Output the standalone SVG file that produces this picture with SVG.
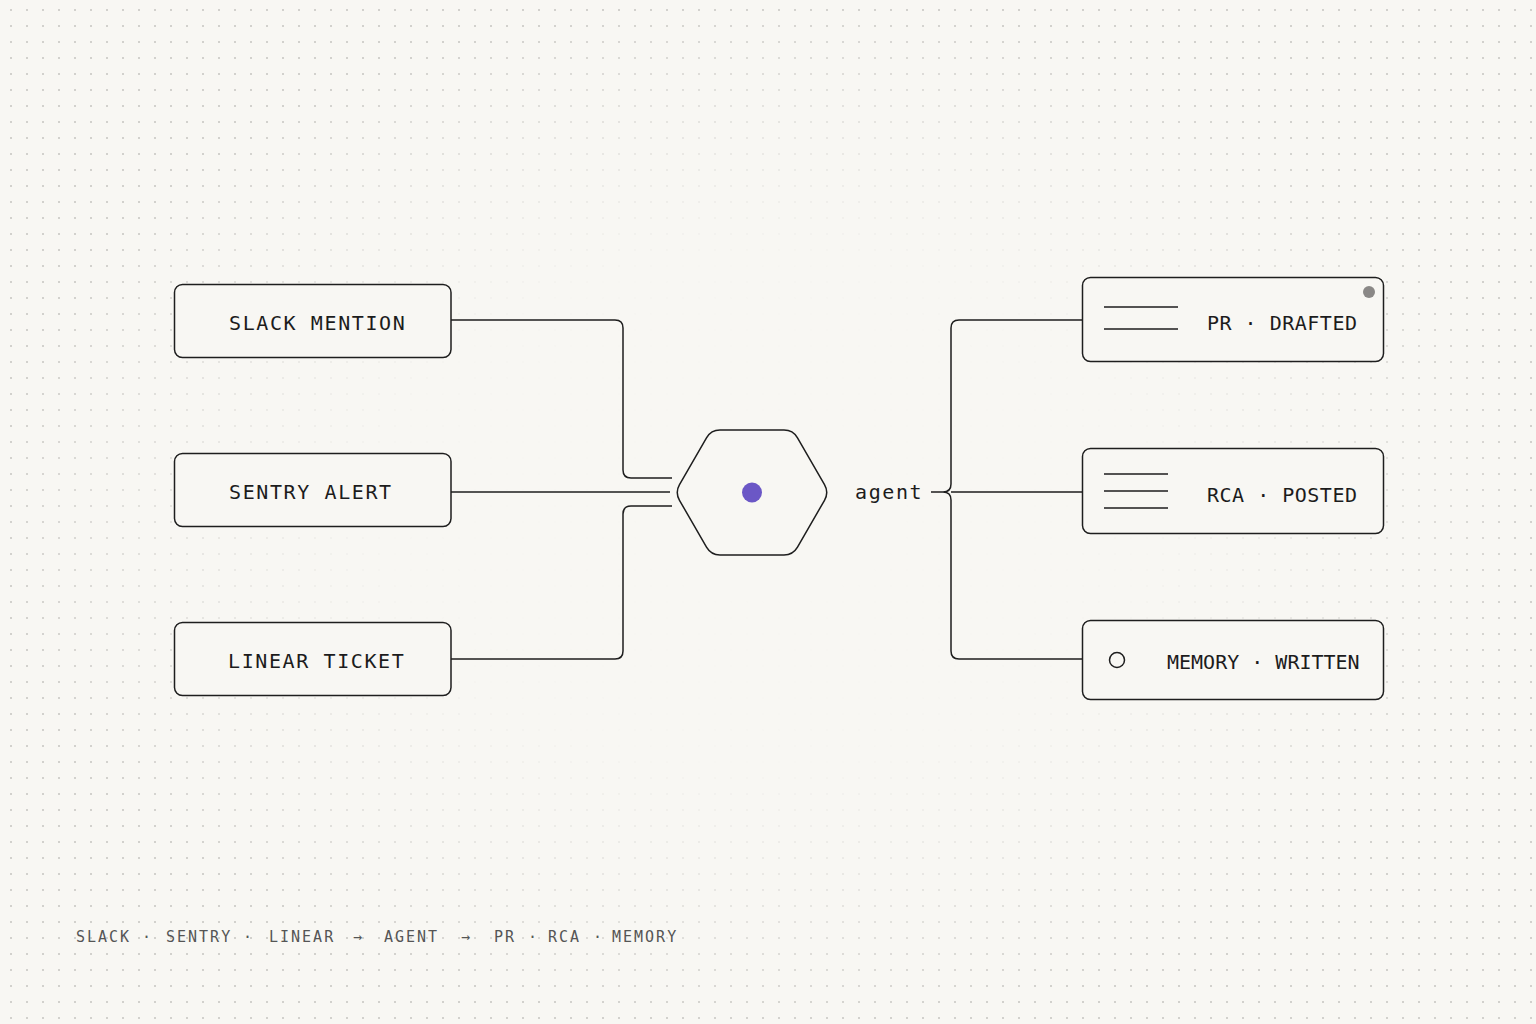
<svg xmlns="http://www.w3.org/2000/svg" width="1536" height="1024" viewBox="0 0 1536 1024">
  <defs>
    <pattern id="dots" x="3" y="2" width="16" height="16" patternUnits="userSpaceOnUse">
      <circle cx="8" cy="8" r="1" fill="#c6c5c1"/>
    </pattern>
    <radialGradient id="fade" cx="0.5" cy="0.5" r="0.5">
      <stop offset="0" stop-color="#fff" stop-opacity="0"/>
      <stop offset="0.5" stop-color="#fff" stop-opacity="0.04"/>
      <stop offset="0.75" stop-color="#fff" stop-opacity="0.45"/>
      <stop offset="1" stop-color="#fff" stop-opacity="1"/>
    </radialGradient>
    <mask id="m">
      <rect width="1536" height="1024" fill="url(#fade)"/>
    </mask>
  </defs>
  <style>
    .box { fill: #f8f7f3; stroke: #1e1e1e; stroke-width: 1.5; }
    .wire { fill: none; stroke: #1e1e1e; stroke-width: 1.5; }
    .lbl { font-family: "DejaVu Sans Mono", "Liberation Mono", monospace; font-size: 20px; fill: #1c1c1c; }
    .in { letter-spacing: 1.6px; }
    .out { letter-spacing: 0.5px; }
    .tight { letter-spacing: 0px; }
    .foot { font-family: "DejaVu Sans Mono", "Liberation Mono", monospace; font-size: 15px; fill: #555; letter-spacing: 2px; }
  </style>
  <rect width="1536" height="1024" fill="#f8f7f3"/>
  <rect width="1536" height="1024" fill="url(#dots)" mask="url(#m)"/>

  <g id="connectors">
    <path class="wire" d="M451,320 H615 Q623,320 623,328 V470 Q623,478 631,478 H672"/>
    <path class="wire" d="M451,492 H670"/>
    <path class="wire" d="M672,506 H631 Q623,506 623,514 V651 Q623,659 615,659 H451"/>
    <path class="wire" d="M1082,320 H959 Q951,320 951,328 V484 Q951,492 943,492 Q951,492 951,500 V651 Q951,659 959,659 H1082"/>
    <path class="wire" d="M931,492 H943 M951,492 H1082"/>
  </g>

  <g id="slack">
    <rect class="box" x="174.5" y="284.5" width="276.5" height="73" rx="8"/>
    <text class="lbl in" x="229" y="330">SLACK MENTION</text>
  </g>
  <g id="sentry">
    <rect class="box" x="174.5" y="453.5" width="276.5" height="73" rx="8"/>
    <text class="lbl in" x="229" y="499">SENTRY ALERT</text>
  </g>
  <g id="linear">
    <rect class="box" x="174.5" y="622.5" width="276.5" height="73" rx="8"/>
    <text class="lbl in" x="228" y="668">LINEAR TICKET</text>
  </g>

  <g id="agent">
    <path class="wire" d="M679.5,484.7 L706.5,437.8 Q711,430 720,430 L784,430 Q793,430 797.5,437.8 L824.5,484.7 Q829,492.5 824.5,500.3 L797.5,547.2 Q793,555 784,555 L720,555 Q711,555 706.5,547.2 L679.5,500.3 Q675,492.5 679.5,484.7 Z" fill="#f8f7f3"/>
    <circle cx="752" cy="492.5" r="10" fill="#6b57c6"/>
    <text class="lbl in" x="855" y="499">agent</text>
  </g>

  <g id="pr">
    <rect class="box" x="1082.5" y="277.5" width="301" height="84" rx="8"/>
    <path class="wire" d="M1104,307 H1178 M1104,329 H1178"/>
    <circle cx="1369" cy="292" r="6" fill="#8a8886"/>
    <text class="lbl out" x="1207" y="329.5">PR · DRAFTED</text>
  </g>
  <g id="rca">
    <rect class="box" x="1082.5" y="448.5" width="301" height="85" rx="8"/>
    <path class="wire" d="M1104,474 H1168 M1104,491 H1168 M1104,508 H1168"/>
    <text class="lbl out" x="1207" y="502">RCA · POSTED</text>
  </g>
  <g id="memory">
    <rect class="box" x="1082.5" y="620.5" width="301" height="79" rx="8"/>
    <circle class="wire" cx="1117" cy="660" r="7.5"/>
    <text class="lbl tight" x="1167" y="669">MEMORY · WRITTEN</text>
  </g>

  <g id="footer">
    <text class="foot" y="941.5"><tspan x="76">SLACK</tspan><tspan x="142">·</tspan><tspan x="166">SENTRY</tspan><tspan x="243">·</tspan><tspan x="269">LINEAR</tspan><tspan x="353">→</tspan><tspan x="384">AGENT</tspan><tspan x="461">→</tspan><tspan x="494">PR</tspan><tspan x="528">·</tspan><tspan x="548">RCA</tspan><tspan x="593">·</tspan><tspan x="612">MEMORY</tspan></text>
  </g>
</svg>
